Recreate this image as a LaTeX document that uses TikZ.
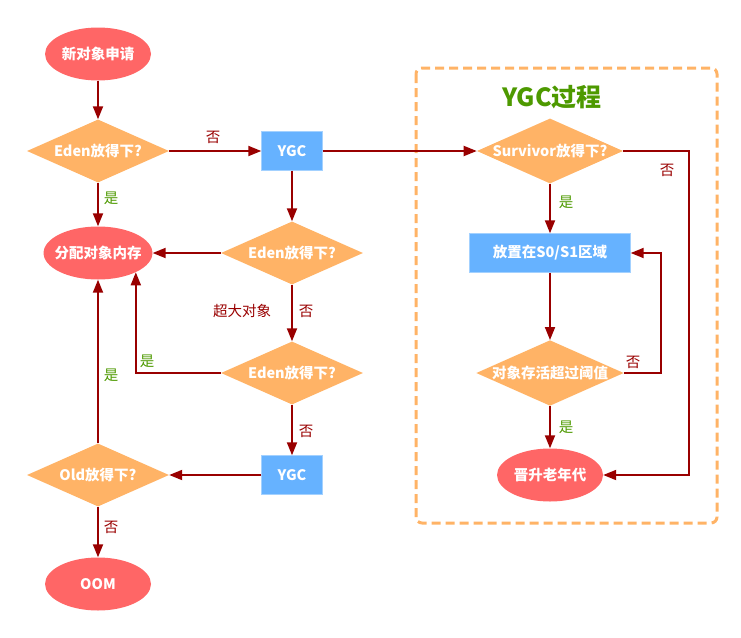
\documentclass[tikz,border=0pt]{standalone}
\usepackage{fontspec}
\setmainfont{Noto Sans CJK SC}
\usetikzlibrary{shapes.geometric, arrows.meta}
\definecolor{termred}{HTML}{FF6666}
\definecolor{askorange}{HTML}{FFB366}
\definecolor{procblue}{HTML}{66B2FF}
\definecolor{flowred}{HTML}{990000}
\definecolor{yesgreen}{HTML}{4D9900}
\tikzset{
  term/.style={ellipse, fill=termred, text=white,
    font=\fontsize{14.5}{17}\selectfont\bfseries,
    minimum width=106pt, minimum height=53pt, inner xsep=-5pt, inner ysep=0pt},
  decide/.style={diamond, fill=askorange, text=white,
    font=\fontsize{14.5}{17}\selectfont\bfseries,
    aspect=2.25, minimum width=142pt, minimum height=63pt, inner sep=0pt},
  proc/.style={rectangle, fill=procblue, draw=procblue!60!white, text=white,
    font=\fontsize{14.5}{17}\selectfont\bfseries, minimum height=39pt},
  flow/.style={draw=flowred, line width=1.8pt, -{Triangle[length=13pt,width=10pt]}},
  nolab/.style={text=flowred, font=\fontsize{14.5}{17}\selectfont},
  yeslab/.style={text=yesgreen, font=\fontsize{14.5}{17}\selectfont},
  ygcframe/.style={draw=askorange, line width=3pt, dash pattern=on 9pt off 5pt,
    rounded corners=6pt}
}
\begin{document}
\begin{tikzpicture}[x=1pt,y=-1pt]
  \useasboundingbox (0,0) rectangle (741,637);
  % YGC box
  \draw[ygcframe] (416,68) rectangle (717,523);
  \node[text=yesgreen, font=\fontsize{25}{29}\selectfont\bfseries] (ttl) at (552,97) {YGC过程};

  \node[term] (req) at (98,54) {新对象申请};
  \node[decide] (eden1) at (98,151) {Eden放得下?};
  \node[proc, minimum width=61pt] (ygc1) at (292,151) {YGC};
  \node[term] (alloc) at (98,253) {分配对象内存};
  \node[decide] (eden2) at (292,253) {Eden放得下?};
  \node[decide] (eden3) at (292,373) {Eden放得下?};
  \node[proc, minimum width=61pt] (ygc2) at (292,475) {YGC};
  \node[decide] (old) at (98,475) {Old放得下?};
  \node[term] (oom) at (98,584) {OOM};

  \node[decide] (surv) at (550,151) {Survivor放得下?};
  \node[proc, minimum width=161pt] (place) at (550,253) {放置在S0/S1区域};
  \node[decide] (age) at (550,373) {对象存活超过阈值};
  \node[term] (tenure) at (550,475) {晋升老年代};

  \coordinate (sr) at (689,151);
  \coordinate (ar) at (661,373);

  \draw[flow] (req) -- (eden1);
  \draw[flow] (eden1) -- (ygc1);
  \draw[flow] (eden1) -- (alloc);
  \draw[flow] (ygc1) -- (eden2);
  \draw[flow] (eden2) -- (alloc);
  \draw[flow] (eden2) -- (eden3);
  \draw[flow] (eden3.west) -| (alloc.-27);
  \draw[flow] (eden3) -- (ygc2);
  \draw[flow] (ygc2) -- (old);
  \draw[flow] (old) -- (alloc);
  \draw[flow] (old) -- (oom);
  \draw[flow] (ygc1) -- (surv);
  \draw[flow] (surv) -- (place);
  \draw[flow] (place) -- (age);
  \draw[flow] (age) -- (tenure);
  \draw[flow] (age) -- (ar) |- (place);
  \draw[flow] (surv) -- (sr) |- (tenure);

  % labels
  \node[nolab] (n1) at (213,137) {否};
  \node[yeslab] (y1) at (111,198) {是};
  \node[nolab] (big) at (242,311) {超大对象};
  \node[nolab] (n2) at (306,311) {否};
  \node[yeslab] (y2) at (147,361) {是};
  \node[yeslab] (y3) at (111,375) {是};
  \node[nolab] (n3) at (306,431) {否};
  \node[nolab] (n4) at (111,527) {否};
  \node[nolab] (n5) at (667,170) {否};
  \node[yeslab] (y4) at (566,202) {是};
  \node[nolab] (n6) at (633,362) {否};
  \node[yeslab] (y5) at (566,427) {是};
\end{tikzpicture}
\end{document}
